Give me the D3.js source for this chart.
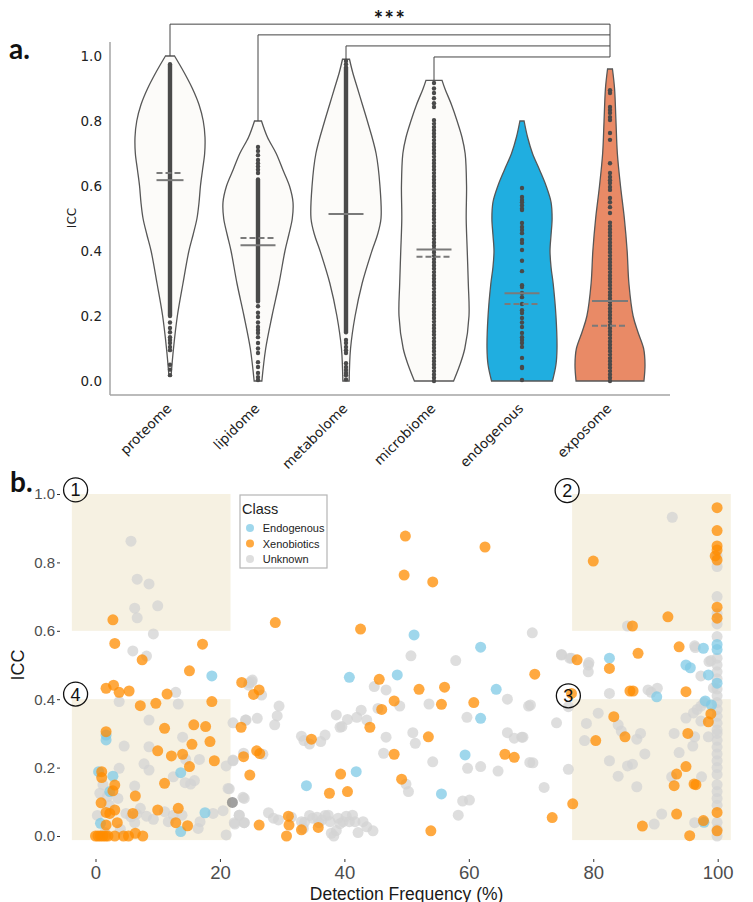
<!DOCTYPE html>
<html>
<head>
<meta charset="utf-8">
<script src="https://cdn.jsdelivr.net/npm/d3@7"></script>
<style>
  body { margin: 0; background: #fff; }
  svg { display: block; }
</style>
</head>
<body>
<svg id="fig" width="753" height="902"></svg>
<script>
// ---------------- Panel a: ICC by omic layer (violins) ----------------
const categories = ["proteome", "lipidome", "metabolome", "microbiome", "endogenous", "exposome"];

// violin outlines: [ICC, relative half-width]
const proteomeDensity   = [[1.0,0.13],[0.95,0.4],[0.9,0.64],[0.85,0.83],[0.8,0.95],[0.75,1.0],[0.7,0.99],[0.65,0.93],[0.6,0.87],[0.55,0.83],[0.5,0.77],[0.45,0.66],[0.4,0.54],[0.3,0.37],[0.2,0.21],[0.1,0.1],[0.015,0.03]];
const lipidomeDensity   = [[0.8,0.1],[0.75,0.27],[0.7,0.52],[0.65,0.71],[0.6,0.9],[0.55,1.0],[0.5,0.98],[0.45,0.88],[0.4,0.77],[0.3,0.6],[0.2,0.4],[0.1,0.22],[0.0,0.11]];
const metabolomeDensity = [[0.99,0.1],[0.95,0.19],[0.9,0.33],[0.85,0.47],[0.8,0.61],[0.7,0.86],[0.6,0.97],[0.5,1.0],[0.45,0.9],[0.4,0.74],[0.3,0.46],[0.2,0.26],[0.1,0.13],[0.0,0.09]];
const microbiomeDensity = [[0.925,0.23],[0.9,0.31],[0.85,0.5],[0.8,0.66],[0.75,0.8],[0.7,0.89],[0.6,0.93],[0.5,0.92],[0.4,0.95],[0.3,0.98],[0.2,1.0],[0.1,0.88],[0.05,0.74],[0.0,0.56]];
const endogenousDensity = [[0.8,0.06],[0.75,0.16],[0.7,0.3],[0.65,0.5],[0.6,0.69],[0.55,0.83],[0.5,0.86],[0.45,0.83],[0.4,0.8],[0.35,0.83],[0.3,0.89],[0.2,0.97],[0.1,1.0],[0.05,0.97],[0.0,0.87]];
const exposomeDensity   = [[0.96,0.07],[0.9,0.13],[0.8,0.17],[0.7,0.21],[0.6,0.3],[0.5,0.41],[0.4,0.49],[0.3,0.54],[0.2,0.66],[0.15,0.8],[0.1,0.96],[0.05,1.0],[0.0,0.97]];

// summary lines: solid = mean, dashed = median
const meanICC   = [0.618, 0.418, 0.514, 0.405, 0.27, 0.246];
const medianICC = [0.64, 0.44, 0.514, 0.382, 0.237, 0.17];

// individual features (single points) and densely packed runs [low, high]
const proteomePoints   = [0.18,0.163,0.15,0.135,0.126,0.117,0.105,0.095,0.05,0.035,0.018];
const proteomeRuns     = [[0.2,0.975]];
const lipidomePoints   = [0.72,0.708,0.695,0.68,0.67,0.66,0.65,0.64,0.23,0.21,0.197,0.18,0.166,0.157,0.148,0.135,0.117,0.1,0.086,0.058,0.043,0.025,0.012,0.003];
const lipidomeRuns     = [[0.245,0.62]];
const metabolomePoints = [0.985,0.975,0.126,0.117,0.105,0.095,0.086,0.055,0.043,0.034,0.025,0.018,0.005];
const metabolomeRuns   = [[0.15,0.965]];
const microbiomePoints = [0.917,0.9,0.886,0.87,0.855,0.843];
const microbiomeRuns   = [[0.0,0.81]];
const endogenousPoints = [0.594,0.566,0.557,0.54,0.53,0.55,0.526,0.486,0.474,0.465,0.455,0.434,0.425,0.403,0.37,0.338,0.295,0.289,0.271,0.258,0.237,0.218,0.209,0.194,0.18,0.166,0.148,0.135,0.126,0.117,0.105,0.071,0.043,0.04,0.003];
const endogenousRuns   = [];
const exposomePoints   = [0.895,0.886,0.843,0.834,0.825,0.812,0.803,0.763,0.742,0.67,0.64,0.628,0.618,0.609,0.597,0.588,0.563,0.55,0.535,0.517];
const exposomeRuns     = [[0.0,0.495]];

const violinFill = ["#fcfbf9","#fcfbf9","#fcfbf9","#fcfbf9","#20aee0","#e98a66"];

// significance brackets: each layer vs exposome
const bracketPairs  = [["proteome","exposome"],["lipidome","exposome"],["metabolome","exposome"],["microbiome","exposome"]];
const bracketLevels = [1.098, 1.065, 1.031, 0.997];
const bracketLabel  = "***";

const iccTicks = [0, 0.2, 0.4, 0.6, 0.8, 1.0];

// ---------------- Panel b: ICC vs detection frequency ----------------
const classNames = ["Endogenous", "Xenobiotics", "Unknown"];
const freqTicks = [0, 20, 40, 60, 80, 100];

const endogenousFeatures = [
  [18.7,0.468],[1.7,0.295],[1.7,0.281],[0.5,0.188],[2.8,0.175],[13.7,0.185],[2.3,0.13],[0.8,0.037],[13.7,0.013],[17.6,0.068],
  [40.8,0.464],[48.5,0.471],[61.9,0.552],[64.4,0.429],[61.9,0.344],[59.4,0.237],[41.9,0.188],[33.9,0.147],[55.6,0.123],[51.2,0.588],
  [82.6,0.52],[97.7,0.549],[99.9,0.56],[99.9,0.545],[95.6,0.492],[98.5,0.471],[99.9,0.447],[90.2,0.407],[98.0,0.395],[99.0,0.383],[97.8,0.04],[94.9,0.5]
];

const xenobioticFeatures = [
  [3.1,0.563],[17.2,0.561],[7.5,0.515],[15.1,0.483],[1.7,0.432],[2.9,0.441],[3.8,0.42],[5.4,0.424],[11.5,0.415],[18.7,0.393],
  [9.7,0.388],[7.2,0.381],[23.5,0.449],[25.4,0.414],[26.3,0.427],[11.1,0.315],[15.8,0.325],[17.7,0.32],[1.7,0.305],[15.5,0.268],
  [18.4,0.276],[23.4,0.318],[10.0,0.249],[14.0,0.239],[12.2,0.234],[19.1,0.22],[15.1,0.203],[23.8,0.232],[25.9,0.249],[26.4,0.241],
  [24.8,0.178],[1.0,0.188],[1.0,0.171],[3.1,0.149],[2.8,0.132],[11.1,0.154],[6.4,0.117],[0.9,0.097],[1.7,0.069],[3.1,0.076],
  [10.0,0.076],[13.3,0.081],[6.0,0.066],[2.3,0.066],[1.7,0.032],[3.5,0.039],[12.9,0.039],[14.8,0.03],[26.3,0.032],
  [0,0],[0.4,0],[0.8,0],[1.2,0],[1.6,0],[2.0,0],[3.1,0],[4.5,0],[5.3,0],[6.4,0.008],[7.6,0],
  [2.8,0.632],
  [45.6,0.458],[48.0,0.395],[46.0,0.37],[52.0,0.429],[56.1,0.435],[55.6,0.385],[60.8,0.39],[44.1,0.318],[34.7,0.283],[53.5,0.29],
  [48.0,0.239],[65.8,0.239],[67.3,0.23],[39.4,0.181],[49.2,0.166],[37.6,0.125],[40.5,0.13],[31.0,0.058],[31.1,0.032],[30.7,0.0],
  [33.1,0.018],[35.8,0.025],[53.9,0.015],
  [49.8,0.877],[62.6,0.845],[49.6,0.763],[54.2,0.743],[42.6,0.605],[28.9,0.624],[70.6,0.473],
  [77.4,0.515],[87.2,0.534],[82.6,0.49],[93.8,0.553],[85.9,0.424],[86.4,0.424],[76.5,0.417],[94.9,0.422],[83.3,0.349],[80.4,0.279],
  [85.1,0.29],[95.2,0.3],[98.5,0.334],[98.9,0.357],[94.9,0.203],[93.4,0.181],[93.0,0.147],[96.2,0.152],[96.5,0.15],[76.7,0.094],
  [73.4,0.054],[93.4,0.064],[87.9,0.029],[95.5,0.001],[97.7,0.045],[99.9,0.069],[99.9,0.015],
  [99.9,0.96],[99.9,0.893],[99.9,0.848],[99.9,0.836],[99.6,0.819],[99.9,0.807],[80.0,0.804],[99.9,0.669],[99.9,0.637],[92.0,0.641],[86.3,0.614]
];

const unknownFeatures = [
  [5.7,0.862],[6.7,0.751],[8.6,0.737],[6.3,0.666],[6.7,0.638],[10.0,0.673],[9.3,0.591],[6.0,0.541],[8.2,0.526],[12.9,0.42],
  [13.3,0.386],[3.8,0.393],[8.6,0.339],[14.0,0.289],[4.6,0.263],[8.6,0.261],[7.8,0.211],[8.6,0.193],[3.8,0.198],[14.5,0.224],
  [16.7,0.224],[12.5,0.173],[14.4,0.156],[15.3,0.152],[15.9,0.162],[6.3,0.146],[21.0,0.205],[22.1,0.22],[21.3,0.139],[23.7,0.113],
  [24.1,0.339],[24.7,0.448],[25.2,0.456],[22.1,0.331],[0.7,0.125],[1.9,0.115],[3.6,0.11],[7.2,0.081],[8.2,0.058],[9.3,0.049],
  [11.1,0.071],[11.7,0.042],[12.5,0.061],[13.9,0.061],[4.9,0.066],[5.7,0.056],[6.3,0.039],[6.6,0.064],[16.8,0.042],[16.5,0.022],
  [18.9,0.066],[20.5,0.074],[21.0,0.003],[22.3,0.039],[23.1,0.061],[23.9,0.039],[1.2,0.15],[2.2,0.09],[0.3,0.06],[4.0,0.02],[1.5,0.01],
  [50.7,0.527],[57.9,0.513],[44.8,0.437],[46.7,0.427],[48.9,0.38],[53.6,0.386],[59.7,0.347],[66.2,0.4],[69.6,0.38],[51.0,0.302],
  [51.4,0.271],[46.7,0.289],[46.3,0.242],[54.2,0.217],[59.8,0.198],[61.9,0.203],[64.7,0.19],[66.2,0.302],[67.3,0.286],[68.5,0.289],
  [69.8,0.215],[49.9,0.152],[50.3,0.13],[59.0,0.102],[60.1,0.105],[58.3,0.061],[38.7,0.354],[39.3,0.318],[39.6,0.32],[40.5,0.341],
  [42.0,0.347],[42.7,0.368],[43.6,0.339],[45.4,0.373],[33.1,0.292],[33.5,0.279],[34.4,0.269],[36.2,0.276],[36.9,0.295],[25.1,0.451],
  [24.6,0.441],[26.7,0.412],[29.5,0.38],[29.2,0.351],[28.8,0.325],[24.2,0.339],[26.0,0.344],[22.1,0.222],[23.8,0.242],[26.9,0.239],
  [21.5,0.138],[23.9,0.11],[22.4,0.035],[23.9,0.039],[23.1,0.061],[27.8,0.068],[28.6,0.052],[29.4,0.047],
  [31.5,0.055],[33.1,0.042],[33.6,0.04],[34.9,0.052],[35.6,0.055],[36.4,0.047],[37.4,0.061],[37.7,0.042],[38.3,0.0],[38.7,0.016],
  [39.0,0.052],[39.8,0.042],[40.3,0.058],[40.8,0.042],[41.3,0.061],[41.7,0.042],[42.2,0.01],[43.0,0.042],[43.6,0.027],[44.6,0.015],
  [33.4,0.022],[35.9,0.039],[39.3,0.036],[37.9,0.008],[34.4,0.06],[36.9,0.06],
  [70.2,0.594],[74.9,0.529],[76.2,0.52],[79.2,0.5],[79.2,0.48],[69.9,0.383],[74.1,0.331],[68.7,0.289],[70.3,0.214],[76.0,0.195],
  [72.1,0.142],[76.0,0.378],[82.6,0.417],[88.8,0.427],[90.3,0.432],[89.3,0.42],[96.3,0.556],[98.9,0.513],[97.3,0.468],[99.3,0.433],
  [78.9,0.329],[80.8,0.359],[78.6,0.279],[84.0,0.325],[84.5,0.307],[87.0,0.283],[87.6,0.3],[88.3,0.24],[82.6,0.22],[85.5,0.205],
  [86.3,0.21],[84.0,0.175],[87.0,0.144],[93.0,0.3],[93.8,0.244],[94.9,0.345],[96.0,0.263],[96.3,0.29],[97.3,0.336],[96.1,0.36],
  [96.7,0.37],[97.3,0.38],[97.8,0.39],[97.4,0.173],[92.6,0.173],[91.0,0.064],[89.8,0.035],[96.3,0.039],[98.5,0.29],
  [99.9,0.0],[99.9,0.02],[99.9,0.04],[99.9,0.09],[99.9,0.11],[99.9,0.13],[99.9,0.15],[99.9,0.18],[99.9,0.2],[99.9,0.22],
  [99.9,0.24],[99.9,0.26],[99.9,0.28],[99.9,0.3],[99.9,0.31],[99.9,0.33],[99.9,0.35],[99.9,0.37],[99.9,0.39],[99.9,0.41],
  [99.9,0.43],[99.9,0.46],[99.9,0.48],[99.9,0.5],[99.9,0.52],[99.9,0.583],[99.9,0.62],[99.9,0.65],[99.9,0.7],[99.9,0.788],[99.9,0.82],
  [92.7,0.932],[85.5,0.614],[96.4,0.551],[74.9,0.531],[76.5,0.52],[79.3,0.507],[98.6,0.51]
];
const unassignedFeatures = [[22.0,0.098]];

// highlighted quadrants: detection-frequency range, ICC range, label anchor
const quadrants = [
  { id: "1", freq: [-3.8, 21.7], icc: [0.6, 1.0],    label: [-3.2, 1.012] },
  { id: "2", freq: [76.6, 102.1], icc: [0.6, 1.0],   label: [75.8, 1.01] },
  { id: "3", freq: [76.6, 102.1], icc: [-0.012, 0.4], label: [76.0, 0.41] },
  { id: "4", freq: [-3.8, 21.7], icc: [-0.012, 0.4], label: [-3.2, 0.415] }
];

// =====================================================================
const svg = d3.select("#fig");

// ---------- panel a ----------
const A = svg.append("g").attr("font-family", "'DejaVu Sans', sans-serif");
const xA = d3.scalePoint().domain(categories).range([170, 610]);
const yA = d3.scaleLinear().domain([0, 1]).range([381, 56]);
const violinHalf = 35;

const densities = [proteomeDensity, lipidomeDensity, metabolomeDensity, microbiomeDensity, endogenousDensity, exposomeDensity];
const pointSets = [proteomePoints, lipidomePoints, metabolomePoints, microbiomePoints, endogenousPoints, exposomePoints];
const runSets   = [proteomeRuns, lipidomeRuns, metabolomeRuns, microbiomeRuns, endogenousRuns, exposomeRuns];
const runDash   = [null, null, null, "0 3.3", null, "0 3.3"];

// frame
A.append("line").attr("x1", 110).attr("x2", 110).attr("y1", 42).attr("y2", 395)
  .attr("stroke", "#a5a5a5").attr("stroke-width", 1.5);
A.append("line").attr("x1", 110).attr("x2", 670).attr("y1", 395).attr("y2", 395)
  .attr("stroke", "#a5a5a5").attr("stroke-width", 1.5);

// y axis labels
const yAxisA = A.append("g").attr("transform", "translate(110,0)")
  .call(d3.axisLeft(yA).tickValues(iccTicks).tickFormat(d3.format(".1f")).tickSize(0).tickPadding(8));
yAxisA.select(".domain").remove();
yAxisA.selectAll("text").attr("font-size", 13.5).attr("fill", "#222").attr("font-family", "'DejaVu Sans', sans-serif");

A.append("text").attr("transform", "translate(76,218) rotate(-90)")
  .attr("text-anchor", "middle").attr("font-size", 12).attr("fill", "#222").text("ICC");

// x labels
A.selectAll("text.cat").data(categories).join("text")
  .attr("class", "cat")
  .attr("transform", d => `translate(${xA(d) - 1},${406}) rotate(-45)`)
  .attr("text-anchor", "end").attr("dy", "0.35em")
  .attr("font-size", 13.5).attr("fill", "#222").text(d => d);

// violins
categories.forEach((c, i) => {
  const cx = xA(c);
  const area = d3.area()
    .y(d => yA(d[0]))
    .x0(d => cx - violinHalf * d[1])
    .x1(d => cx + violinHalf * d[1])
    .curve(d3.curveCatmullRom.alpha(0.5));
  A.append("path").attr("d", area(densities[i]))
    .attr("fill", violinFill[i]).attr("stroke", "#575757").attr("stroke-width", 1.3);
});

// strip of individual features
categories.forEach((c, i) => {
  const cx = xA(c);
  runSets[i].forEach(r => {
    const ln = A.append("line").attr("x1", cx).attr("x2", cx)
      .attr("y1", yA(r[0])).attr("y2", yA(r[1]))
      .attr("stroke", "#4a4a4a").attr("stroke-width", 4.4).attr("stroke-linecap", "round");
    if (runDash[i]) ln.attr("stroke-dasharray", runDash[i]);
  });
  A.selectAll(null).data(pointSets[i]).join("circle")
    .attr("cx", cx).attr("cy", d => yA(d)).attr("r", 2.2).attr("fill", "#4a4a4a");
});

// mean (solid) and median (dashed) lines
const summaryHalf = c => (c === "proteome" ? 13.5 : c === "exposome" ? 18 : 17.5);
categories.forEach((c, i) => {
  const cx = xA(c), hw = summaryHalf(c);
  A.append("line").attr("x1", cx - hw).attr("x2", cx + hw)
    .attr("y1", yA(meanICC[i])).attr("y2", yA(meanICC[i]))
    .attr("stroke", "#7a7a7a").attr("stroke-width", 2);
  if (Math.abs(meanICC[i] - medianICC[i]) > 0.005) {
    A.append("line").attr("x1", cx - hw).attr("x2", cx + hw)
      .attr("y1", yA(medianICC[i])).attr("y2", yA(medianICC[i]))
      .attr("stroke", "#7a7a7a").attr("stroke-width", 2).attr("stroke-dasharray", "6,3");
  }
});

// significance brackets
const topOf = c => densities[categories.indexOf(c)][0][0];
bracketPairs.forEach((p, i) => {
  const xl = xA(p[0]), xr = xA(p[1]), yl = yA(bracketLevels[i]);
  A.append("path")
    .attr("d", `M${xl},${yA(topOf(p[0]))}V${yl}H${xr}`)
    .attr("fill", "none").attr("stroke", "#444").attr("stroke-width", 1);
});
A.append("line").attr("x1", xA("exposome")).attr("x2", xA("exposome"))
  .attr("y1", yA(d3.max(bracketLevels))).attr("y2", yA(d3.min(bracketLevels)))
  .attr("stroke", "#444").attr("stroke-width", 1);
A.append("text").attr("x", 390).attr("y", 27).attr("text-anchor", "middle")
  .attr("font-family", "Lato, sans-serif").attr("font-weight", "bold").attr("font-size", 22)
  .attr("letter-spacing", 1.5).attr("fill", "#111").text(bracketLabel);

svg.append("text").attr("x", 9).attr("y", 59).attr("font-family", "Lato, sans-serif")
  .attr("font-weight", "bold").attr("font-size", 28).attr("fill", "#111").text("a.");

// ---------- panel b ----------
const B = svg.append("g").attr("font-family", "'Liberation Sans', Arial, sans-serif");
const xB = d3.scaleLinear().domain([0, 100]).range([95.5, 717.7]);
const yB = d3.scaleLinear().domain([0, 1]).range([836, 494]);

// shaded quadrants
B.selectAll("rect.quad").data(quadrants).join("rect")
  .attr("class", "quad")
  .attr("x", d => xB(d.freq[0])).attr("width", d => xB(d.freq[1]) - xB(d.freq[0]))
  .attr("y", d => yB(d.icc[1])).attr("height", d => yB(d.icc[0]) - yB(d.icc[1]))
  .attr("fill", "#f6f1e2");

// axes
const yAxisB = B.append("g").attr("transform", "translate(60,0)")
  .call(d3.axisLeft(yB).tickValues(iccTicks).tickFormat(d3.format(".1f")).tickSize(3).tickPadding(2));
yAxisB.select(".domain").remove();
yAxisB.selectAll("line").attr("stroke", "#333");
yAxisB.selectAll("text").attr("font-size", 15).attr("fill", "#4d4d4d")
  .attr("font-family", "'Liberation Sans', Arial, sans-serif");

const xAxisB = B.append("g").attr("transform", "translate(0,859)")
  .call(d3.axisBottom(xB).tickValues(freqTicks).tickSize(3).tickPadding(0));
xAxisB.select(".domain").remove();
xAxisB.selectAll("line").attr("stroke", "#333");
xAxisB.selectAll("text").attr("font-size", 18.5).attr("fill", "#4d4d4d").attr("dy", null)
  .attr("font-family", "'Liberation Sans', Arial, sans-serif")
  .attr("y", 19.5);

B.append("text").attr("x", 406.6).attr("y", 899.5)
  .attr("text-anchor", "middle").attr("font-size", 17.5).attr("fill", "#1a1a1a")
  .text("Detection Frequency (%)");
B.append("text").attr("transform", "translate(24,665) rotate(-90)")
  .attr("text-anchor", "middle").attr("font-size", 18).attr("fill", "#1a1a1a").text("ICC");

// points
const classColor = { Endogenous: "#7fc9e6", Xenobiotics: "#ff8c00", Unknown: "#d3d3d3" };
const layers = [
  [unknownFeatures, classColor.Unknown],
  [unassignedFeatures, "#808080"],
  [endogenousFeatures, classColor.Endogenous],
  [xenobioticFeatures, classColor.Xenobiotics]
];
layers.forEach(([pts, col]) => {
  B.append("g").selectAll("circle").data(pts).join("circle")
    .attr("cx", d => xB(d[0])).attr("cy", d => yB(d[1])).attr("r", 5.5)
    .attr("fill", col).attr("fill-opacity", 0.75);
});

// circled quadrant numbers
const qLab = B.selectAll("g.qlab").data(quadrants).join("g")
  .attr("class", "qlab")
  .attr("transform", d => `translate(${xB(d.label[0])},${yB(d.label[1])})`);
qLab.append("circle").attr("r", 12).attr("fill", "none").attr("stroke", "#111").attr("stroke-width", 1.3);
qLab.append("text").attr("text-anchor", "middle").attr("dy", "0.36em")
  .attr("font-size", 18).attr("fill", "#111").text(d => d.id);

// legend
const L = B.append("g").attr("transform", "translate(240,495)");
L.append("rect").attr("width", 87).attr("height", 73).attr("fill", "#fff")
  .attr("stroke", "#b5b5b5").attr("stroke-width", 1.2);
L.append("text").attr("x", 2).attr("y", 19).attr("font-size", 14.5).attr("fill", "#222").text("Class");
classNames.forEach((n, i) => {
  L.append("circle").attr("cx", 10).attr("cy", 33 + i * 15.5).attr("r", 4)
    .attr("fill", classColor[n]).attr("fill-opacity", 0.75);
  L.append("text").attr("x", 22.7).attr("y", 37 + i * 15.5).attr("font-size", 11)
    .attr("fill", "#222").text(n);
});

svg.append("text").attr("x", 10).attr("y", 492).attr("font-family", "Lato, sans-serif")
  .attr("font-weight", "bold").attr("font-size", 28).attr("fill", "#111").text("b.");
</script>
</body>
</html>
